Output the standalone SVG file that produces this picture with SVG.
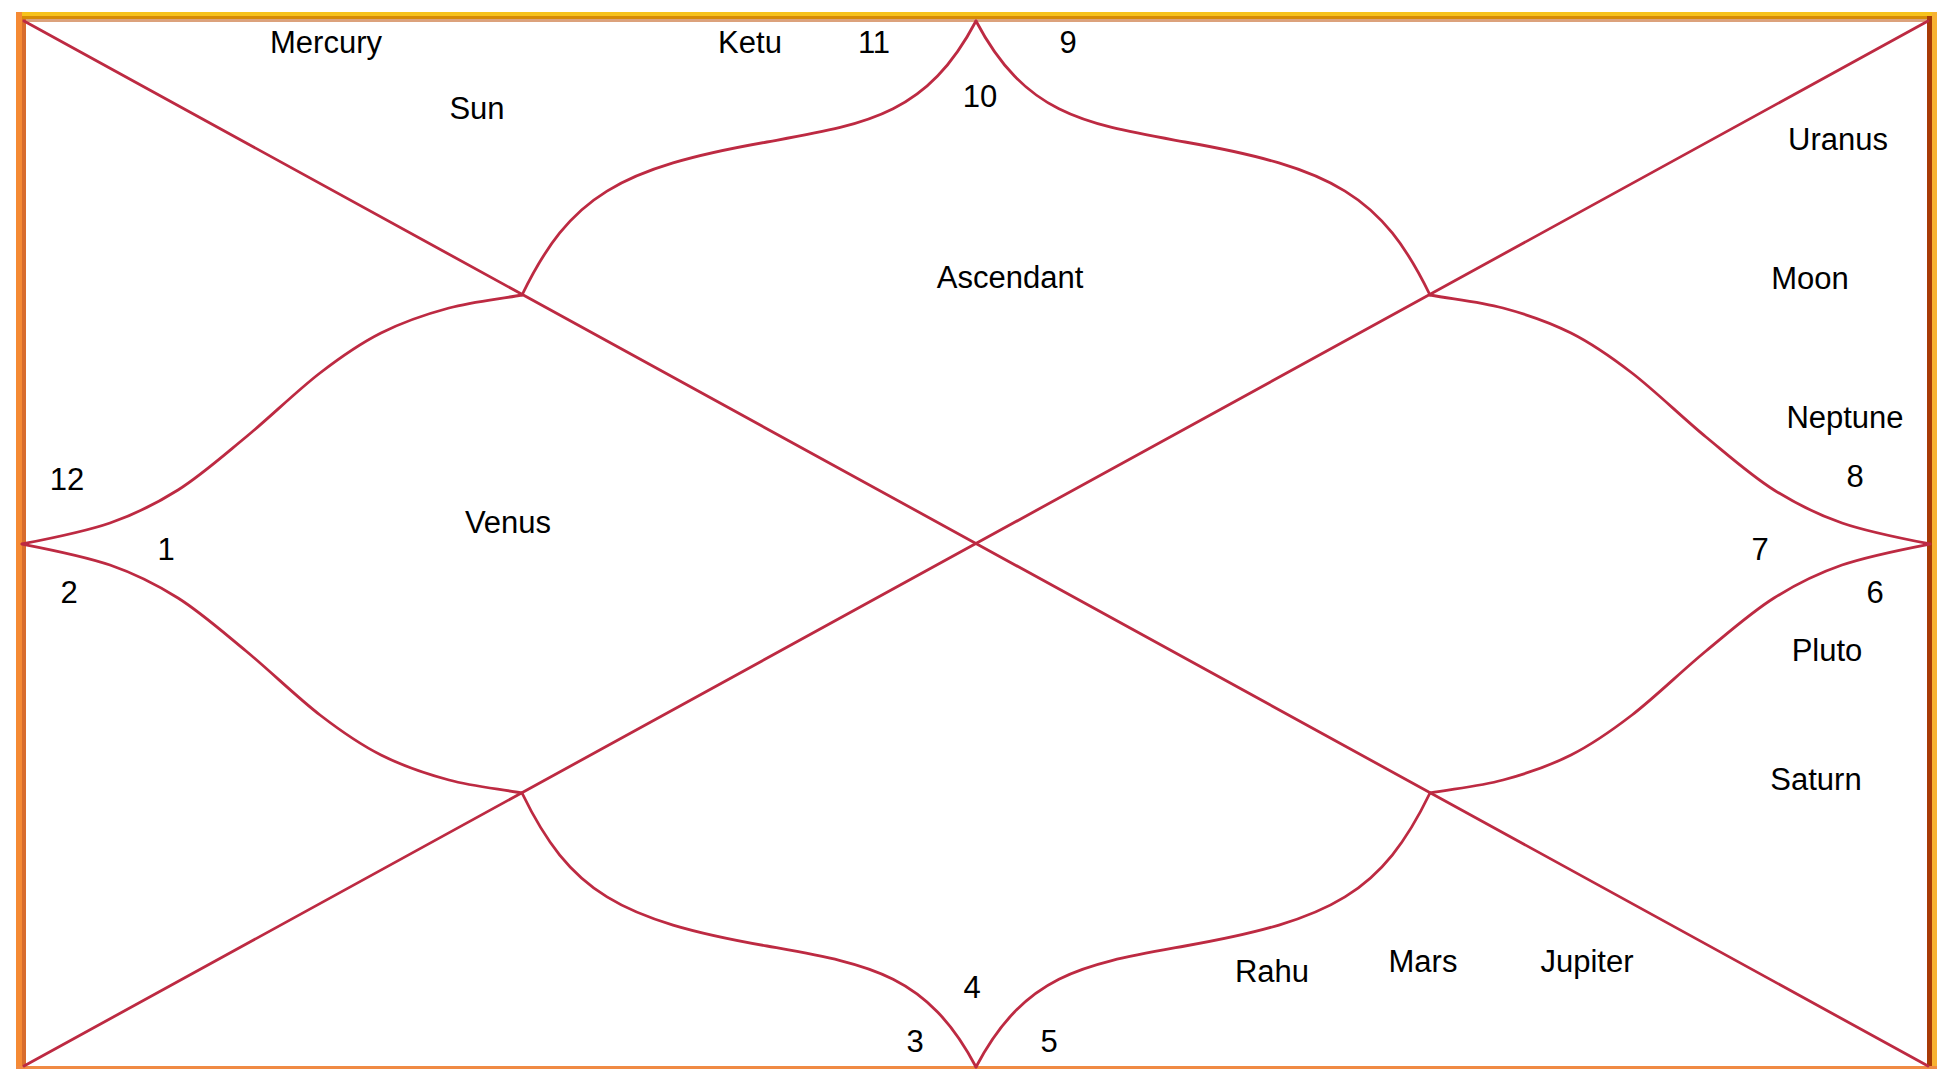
<svg xmlns="http://www.w3.org/2000/svg" width="1944" height="1069" viewBox="0 0 1944 1069">
  <style>
    .ln { fill: none; stroke: #bd2a42; stroke-width: 2.8; stroke-linejoin: round; stroke-linecap: round; }
    .lb { font-family: "Liberation Sans", Arial, sans-serif; font-size: 31px; fill: #000; text-anchor: middle; }
  </style>
  <defs>
    <path id="arcTL" d="M976 21 C926 116 866 124 767 142 C619 168 570 196 522 295"/>
    <path id="lobeTL" d="M522 295 C497.7 299.3 472.5 301.7 449 308 C425.5 314.3 402.5 322.2 381 333 C359.5 343.8 342.5 355.7 320 373 C297.5 390.3 269.7 417.5 246 437 C222.3 456.5 200.7 475.7 178 490 C155.3 504.3 136 514 110 523 C84 532 51.3 538.3 22 544"/>
  </defs>
  <rect x="0" y="0" width="1944" height="1069" fill="#ffffff"/>
  <g id="frame">
    <rect x="16" y="12" width="1921" height="4" fill="#f6c21c"/>
    <rect x="16" y="16" width="1921" height="3" fill="#d68b06"/>
    <rect x="22" y="19" width="1905" height="3" fill="#dca27c"/>
    <rect x="16" y="12" width="6" height="1057" fill="#f58a34"/>
    <rect x="22" y="19" width="4" height="1050" fill="#d86c2c"/>
    <rect x="1927" y="16" width="5" height="1053" fill="#a83a06"/>
    <rect x="1932" y="12" width="5" height="1057" fill="#f8b232"/>
    <rect x="16" y="1066" width="1921" height="3" fill="#f08a44"/>
  </g>
  <g id="connectors">
    <line class="ln" x1="24" y1="21" x2="1928" y2="1066"/>
    <line class="ln" x1="24" y1="1066" x2="1928" y2="21"/>
    <use href="#arcTL" class="ln"/>
    <use href="#lobeTL" class="ln"/>
    <use href="#arcTL" class="ln" transform="matrix(-1 0 0 1 1952 0)"/>
    <use href="#lobeTL" class="ln" transform="matrix(-1 0 0 1 1952 0)"/>
    <use href="#arcTL" class="ln" transform="matrix(1 0 0 -1 0 1088)"/>
    <use href="#lobeTL" class="ln" transform="matrix(1 0 0 -1 0 1088)"/>
    <use href="#arcTL" class="ln" transform="matrix(-1 0 0 -1 1952 1088)"/>
    <use href="#lobeTL" class="ln" transform="matrix(-1 0 0 -1 1952 1088)"/>
  </g>
  <g id="house-numbers">
    <text class="lb" x="166" y="560">1</text>
    <text class="lb" x="69" y="603">2</text>
    <text class="lb" x="915" y="1052">3</text>
    <text class="lb" x="972" y="998">4</text>
    <text class="lb" x="1049" y="1052">5</text>
    <text class="lb" x="1875" y="603">6</text>
    <text class="lb" x="1760" y="560">7</text>
    <text class="lb" x="1855" y="487">8</text>
    <text class="lb" x="1068" y="53">9</text>
    <text class="lb" x="980" y="107">10</text>
    <text class="lb" x="874" y="53">11</text>
    <text class="lb" x="67" y="490">12</text>
  </g>
  <g id="planets">
    <text class="lb" x="326" y="53">Mercury</text>
    <text class="lb" x="750" y="53">Ketu</text>
    <text class="lb" x="477" y="119">Sun</text>
    <text class="lb" x="1838" y="150">Uranus</text>
    <text class="lb" x="1010" y="288">Ascendant</text>
    <text class="lb" x="1810" y="289">Moon</text>
    <text class="lb" x="1845" y="428">Neptune</text>
    <text class="lb" x="508" y="533">Venus</text>
    <text class="lb" x="1827" y="661">Pluto</text>
    <text class="lb" x="1816" y="790">Saturn</text>
    <text class="lb" x="1423" y="972">Mars</text>
    <text class="lb" x="1587" y="972">Jupiter</text>
    <text class="lb" x="1272" y="982">Rahu</text>
  </g>
</svg>
